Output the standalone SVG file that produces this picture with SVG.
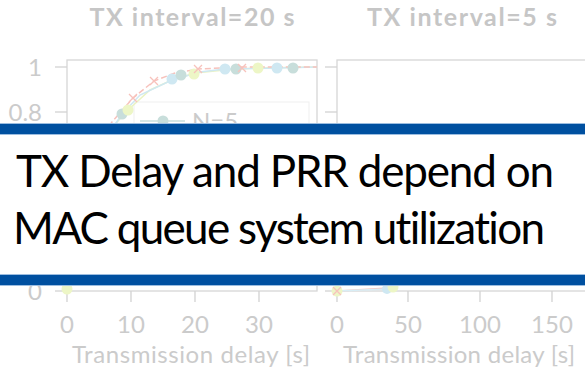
<svg xmlns="http://www.w3.org/2000/svg" width="585" height="369" viewBox="0 0 585 369">
  <style>
    text { font-variant-ligatures: none; }
    .lbl { font-family: Lato, "Liberation Sans", sans-serif; fill: #cbcbcb; font-size: 24px; }
    .ttl { font-family: Lato, "Liberation Sans", sans-serif; fill: #c6c6c6; font-size: 25px; font-weight: bold; }
    .ax { fill: none; stroke: #d6d6d6; stroke-width: 1.3; }
    .tick { stroke: #d2d2d2; stroke-width: 1.3; }
    .head { font-family: Lato, "Liberation Sans", sans-serif; fill: #000; font-size: 44px; }
    .cb { fill: #cfe8f2; }
    .ct { fill: #c8dedb; }
    .cl { fill: #edf6c6; }
    .xr { stroke: #f7c2bc; stroke-width: 1.3; fill: none; }
    .bar { fill: #0050a0; }
    .edge { stroke: #9cbde0; stroke-width: 1; }
  </style>
  <defs>
    <g id="xm"><path class="xr" d="M-4,-4 L4,4 M-4,4 L4,-4"/></g>
  </defs>

  <rect width="585" height="369" fill="#fff"/>

  <!-- left panel: TX interval 20 s -->
  <g id="panel-left">
    <text class="ttl" x="192" y="26" text-anchor="middle" textLength="205" lengthAdjust="spacing">TX interval=20 s</text>
    <rect class="ax" x="67" y="60" width="250" height="231"/>
    <line class="tick" x1="55" y1="67" x2="67" y2="67"/>
    <line class="tick" x1="55" y1="112" x2="67" y2="112"/>
    <line class="tick" x1="55" y1="291" x2="67" y2="291"/>
    <text class="lbl" x="42" y="76" text-anchor="end">1</text>
    <text class="lbl" x="42" y="121" text-anchor="end">0.8</text>
    <text class="lbl" x="42" y="300" text-anchor="end">0</text>
    <line class="tick" x1="67" y1="291" x2="67" y2="302"/>
    <line class="tick" x1="131" y1="291" x2="131" y2="302"/>
    <line class="tick" x1="195" y1="291" x2="195" y2="302"/>
    <line class="tick" x1="259" y1="291" x2="259" y2="302"/>
    <text class="lbl" x="67" y="333" text-anchor="middle">0</text>
    <text class="lbl" x="131" y="333" text-anchor="middle">10</text>
    <text class="lbl" x="195" y="333" text-anchor="middle">20</text>
    <text class="lbl" x="259" y="333" text-anchor="middle">30</text>
    <text class="lbl" x="191" y="363" text-anchor="middle" textLength="238" lengthAdjust="spacing">Transmission delay [s]</text>
    <!-- legend -->
    <rect x="134" y="102" width="175" height="60" fill="#fff" stroke="#efefef" stroke-width="1"/>
    <line x1="140" y1="121" x2="185" y2="121" stroke="#c8dedb" stroke-width="1.5"/>
    <circle class="ct" cx="163" cy="121" r="5.5"/>
    <text class="lbl" x="192" y="130">N=5</text>
  </g>

  <!-- right panel: TX interval 5 s -->
  <g id="panel-right">
    <text class="ttl" x="462" y="26" text-anchor="middle" textLength="190" lengthAdjust="spacing">TX interval=5 s</text>
    <rect class="ax" x="337" y="60" width="260" height="231"/>
    <line class="tick" x1="325" y1="67" x2="337" y2="67"/>
    <line class="tick" x1="325" y1="112" x2="337" y2="112"/>
    <line class="tick" x1="325" y1="291" x2="337" y2="291"/>
    <line class="tick" x1="337" y1="291" x2="337" y2="302"/>
    <line class="tick" x1="408" y1="291" x2="408" y2="302"/>
    <line class="tick" x1="480" y1="291" x2="480" y2="302"/>
    <line class="tick" x1="552" y1="291" x2="552" y2="302"/>
    <text class="lbl" x="337" y="333" text-anchor="middle">0</text>
    <text class="lbl" x="408" y="333" text-anchor="middle">50</text>
    <text class="lbl" x="480" y="333" text-anchor="middle">100</text>
    <text class="lbl" x="552" y="333" text-anchor="middle">150</text>
    <text class="lbl" x="459" y="363" text-anchor="middle" textLength="232" lengthAdjust="spacing">Transmission delay [s]</text>
  </g>

  <!-- data curves and markers -->
  <g id="curves">
    <polyline fill="none" stroke="#eaf3c4" stroke-width="1.5" points="108,132 128,110 150,90 172,80 195,73 225,70 258,68 317,67"/>
    <polyline fill="none" stroke="#cfe8f2" stroke-width="1.5" points="114,126 122,114 140,95 172,80 200,72 225,69 277,68 317,67"/>
    <polyline fill="none" stroke="#f7c2bc" stroke-width="1.5" stroke-dasharray="6,3" points="104,134 112,122 133,98 154,81 175,73 198,69 243,67 317,67"/>
    <circle class="ct" cx="122" cy="114" r="5.5"/>
    <circle class="cl" cx="128" cy="110" r="5.5"/>
    <use href="#xm" x="133" y="98"/>
    <use href="#xm" x="154" y="81"/>
    <circle class="cb" cx="172" cy="79" r="5.5"/>
    <circle class="ct" cx="181" cy="75" r="5.5"/>
    <circle class="cl" cx="194" cy="74" r="5.5"/>
    <use href="#xm" x="198" y="69"/>
    <circle class="cb" cx="225" cy="69" r="5.5"/>
    <circle class="ct" cx="236" cy="69" r="5.5"/>
    <use href="#xm" x="242" y="68"/>
    <circle class="cl" cx="258" cy="68" r="5.5"/>
    <circle class="cb" cx="277" cy="68" r="5.5"/>
    <circle class="ct" cx="293" cy="68" r="5.5"/>
    <circle class="cl" cx="67" cy="289" r="5.5"/>
    <polyline fill="none" stroke="#f6c8c0" stroke-width="1.3" points="337,291 388,288 393,287"/>
    <polyline fill="none" stroke="#d8eef6" stroke-width="1.3" points="337,291 388,289"/>
    <circle class="cl" cx="337" cy="291" r="5.5"/>
    <use href="#xm" x="337" y="291"/>
    <circle class="cb" cx="387" cy="289" r="5"/>
    <circle class="cl" cx="393" cy="287" r="5.5"/>
  </g>

  <!-- caption band -->
  <g id="banner">
    <rect x="0" y="123" width="585" height="163" fill="#fff"/>
    <rect class="bar" x="0" y="123" width="585" height="12"/>
    <rect class="bar" x="0" y="274" width="585" height="12"/>
    <line class="edge" x1="0" y1="123.5" x2="585" y2="123.5"/>
    <line class="edge" x1="0" y1="134.5" x2="585" y2="134.5"/>
    <line class="edge" x1="0" y1="274.5" x2="585" y2="274.5"/>
    <line class="edge" x1="0" y1="285.5" x2="585" y2="285.5"/>
    <text class="head" x="16" y="187" textLength="538" lengthAdjust="spacing">TX Delay and PRR depend on</text>
    <text class="head" x="13" y="244" textLength="532" lengthAdjust="spacing">MAC queue system utilization</text>
  </g>
</svg>
